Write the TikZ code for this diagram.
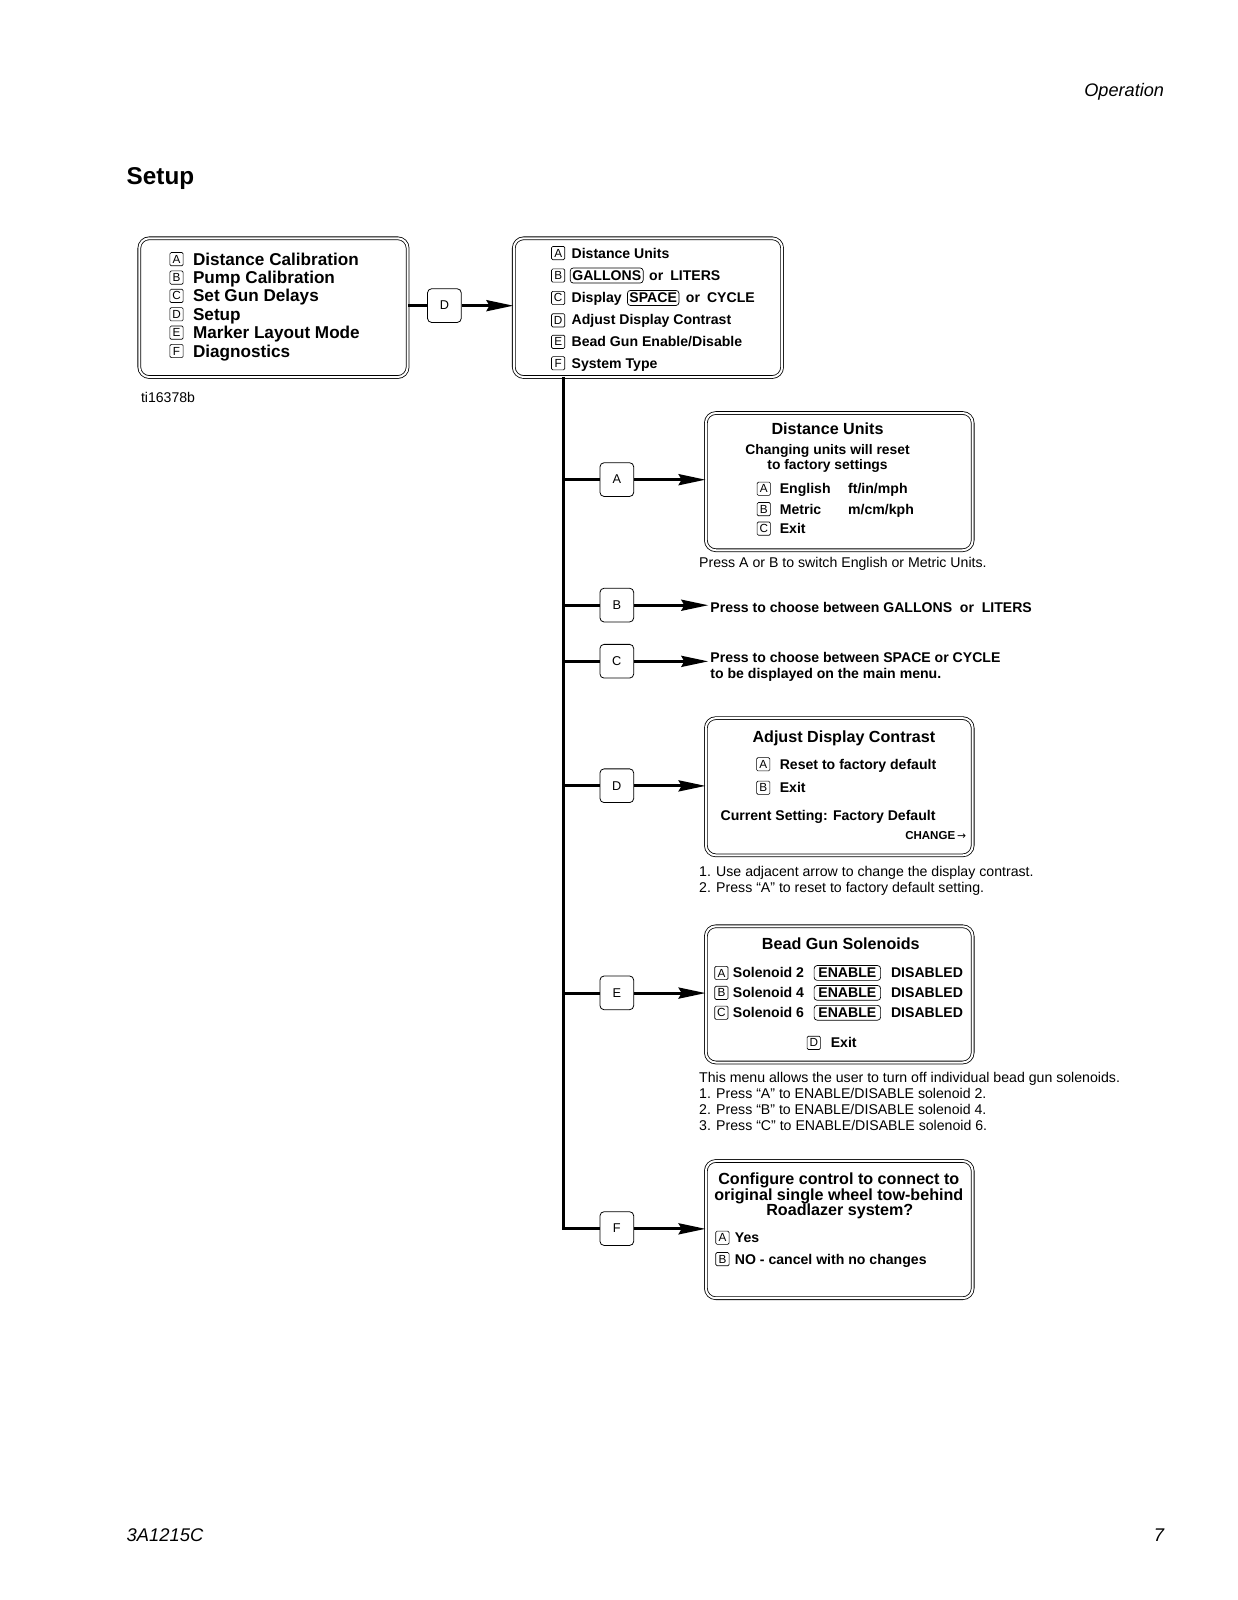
\documentclass[tikz,border=0pt]{standalone}
\usepackage{fontspec}
\setmainfont{Liberation Sans}
\newfontfamily\dejavu{DejaVu Sans}
\usetikzlibrary{arrows.meta}
\newcommand\fs[1]{\fontsize{#1}{#1}\selectfont}
\begin{document}
\begin{tikzpicture}[x=1pt,y=-1pt,
  txt/.style={inner sep=0pt, anchor=base west},
  btxt/.style={txt, font=\bfseries\fs{13.8}},
  rtxt/.style={txt, font=\fs{13.85}},
  ttl/.style={inner sep=0pt, anchor=base, font=\bfseries\fs{15.8}},
  menubox/.style={draw, line width=0.8pt, double, double distance=2pt, rounded corners=10pt, inner sep=0pt},
  keybox/.style={draw, line width=0.8pt, rounded corners=4pt, minimum size=33pt, inner sep=0pt, font=\fs{12.5}},
  lbox/.style={draw, line width=0.65pt, rounded corners=1.3pt, minimum width=13pt, minimum height=13pt, inner sep=0pt, font=\fs{11.5}},
  pill/.style={draw, line width=0.7pt, rounded corners=3pt, inner xsep=2pt, inner ysep=2.5pt, anchor=west, font=\bfseries\fs{13.8}},
  conn/.style={line width=3pt},
  arr/.style={conn, -{Stealth[length=27pt,width=11pt,inset=3pt]}}
]
\useasboundingbox (0,0) rectangle (1237,1600);
\begin{scope}[scale=1.0204, transform shape]

% header / footer
\node[inner sep=0pt, anchor=base east, font=\itshape\fs{17.8}] (hdr) at (1141,94.4) {Operation};
\node[txt, font=\bfseries\fs{23.8}] (ttlsetup) at (124,180.6) {Setup};
\node[txt, font=\fs{13.8}] (tinum) at (138,394) {ti16378b};
\node[txt, font=\itshape\fs{18}] (ftl) at (124,1510.5) {3A1215C};
\node[inner sep=0pt, anchor=base east, font=\itshape\fs{18}] (ftr) at (1141,1510.5) {7};

% main menu
\node[menubox, minimum width=263pt, minimum height=136pt] (m1) at (268,301.5) {};
\foreach \l/\t [count=\i from 0] in {A/Distance Calibration, B/Pump Calibration, C/Set Gun Delays, D/Setup, E/Marker Layout Mode, F/Diagnostics} {
  \node[lbox] (m1k\l) at (173,254+18*\i) {\l};
  \node[txt, font=\bfseries\fs{16.8}] (m1t\l) at (189,259.9+18*\i) {\t};
}

% setup menu
\node[menubox, minimum width=263pt, minimum height=136pt] (m2) at (635,301.5) {};
\node[lbox] (m2kA) at (547,248) {A};
\node[btxt] (m2tA) at (560,253) {Distance Units};
\node[lbox] (m2kB) at (547,270) {B};
\node[pill] (gal) at (558.5,270) {GALLONS};
\node[btxt] (m2tB) at (636,274.6) {or\hspace{0.5em}LITERS};
\node[lbox] (m2kC) at (547,292) {C};
\node[btxt] (m2tC) at (560,296.2) {Display};
\node[pill] (spc) at (614.5,292) {SPACE};
\node[btxt] (m2tC2) at (672,296.2) {or\hspace{0.5em}CYCLE};
\node[lbox] (m2kD) at (547,314) {D};
\node[btxt] (m2tD) at (560,317.8) {Adjust Display Contrast};
\node[lbox] (m2kE) at (547,335) {E};
\node[btxt] (m2tE) at (560,339.4) {Bead Gun Enable/Disable};
\node[lbox] (m2kF) at (547,356) {F};
\node[btxt] (m2tF) at (560,361) {System Type};

% key between main menus
\node[keybox] (kD0) at (435.5,299.5) {D};
\draw[conn] (kD0.west -| m1.east) -- (kD0.west);
\draw[arr] (kD0.east) -- (kD0.east -| m2.west);

% trunk and keys
\coordinate (ttop) at (552,369);
\node[keybox] (kA) at (604.5,470) {A};
\node[keybox] (kB) at (604.5,593) {B};
\node[keybox] (kC) at (604.5,648) {C};
\node[keybox] (kD) at (604.5,770) {D};
\node[keybox] (kE) at (604.5,973) {E};
\node[keybox] (kF) at (604.5,1204) {F};
\draw[conn] (ttop) |- (kF.west);
\foreach \k in {kA,kB,kC,kD,kE} \draw[conn] (\k.west -| ttop) -- (\k.west);

% Distance Units
\node[menubox, minimum width=261.5pt, minimum height=134.5pt] (du) at (822.5,472) {};
\draw[arr] (kA.east) -- (kA.east -| du.west);
\node[ttl] (duT) at (811,425.6) {Distance Units};
\node[inner sep=0pt, anchor=base, font=\bfseries\fs{13.6}] (duS1) at (811,445) {Changing units will reset};
\node[inner sep=0pt, anchor=base, font=\bfseries\fs{13.6}] (duS2) at (811,460) {to factory settings};
\node[lbox] (duKA) at (748.5,479) {A};
\node[btxt] (duA) at (764,484) {English};
\node[btxt] (duA2) at (831,484) {ft/in/mph};
\node[lbox] (duKB) at (748.5,499) {B};
\node[btxt] (duB) at (764,504) {Metric};
\node[btxt] (duB2) at (831,504) {m/cm/kph};
\node[lbox] (duKC) at (748.5,518) {C};
\node[btxt] (duC) at (764,523) {Exit};
\node[rtxt] (duCap) at (685,556) {Press A or B to switch English or Metric Units.};

% B and C
\node[btxt] (tB) at (696,600) {Press to choose between GALLONS\hspace{0.55em}or\hspace{0.55em}LITERS};
\draw[arr, shorten >=2pt] (kB.east) -- (kB.east -| tB.west);
\node[btxt] (tC) at (696,649) {Press to choose between SPACE or CYCLE};
\node[btxt] (tC2) at (696,665) {to be displayed on the main menu.};
\draw[arr, shorten >=2pt] (kC.east) -- (kC.east -| tC.west);

% Adjust Display Contrast
\node[menubox, minimum width=261.5pt, minimum height=134.5pt] (adc) at (822.5,771) {};
\draw[arr] (kD.east) -- (kD.east -| adc.west);
\node[ttl] (adcT) at (827,727.6) {Adjust Display Contrast};
\node[lbox] (adcKA) at (748,749) {A};
\node[btxt] (adcA) at (764,754) {Reset to factory default};
\node[lbox] (adcKB) at (748,772) {B};
\node[btxt] (adcB) at (764,777) {Exit};
\node[btxt] (adcCur) at (706,804) {Current Setting: Factory Default};
\node[inner sep=0pt, anchor=base east, font=\bfseries\fs{11.3}] (adcCh) at (947,823) {CHANGE\,{\dejavu\mdseries\fs{10.5}→}};
\node[rtxt] (adcCap1) at (685,859) {1. Use adjacent arrow to change the display contrast.};
\node[rtxt] (adcCap2) at (685,875) {2. Press “A” to reset to factory default setting.};

% Bead Gun Solenoids
\node[menubox, minimum width=261.5pt, minimum height=133.5pt] (bgs) at (822.5,974.5) {};
\draw[arr] (kE.east) -- (kE.east -| bgs.west);
\node[ttl] (bgsT) at (824,930.6) {Bead Gun Solenoids};
\foreach \l/\n/\yy in {A/2/953.5, B/4/973, C/6/992.5} {
  \node[lbox] (bgsK\l) at (707,\yy) {\l};
  \node[btxt] (bgsS\l) at (718,\yy+4.9) {Solenoid \n};
  \node[pill, inner xsep=4.2pt] (bgsE\l) at (797.5,\yy) {ENABLE};
  \node[btxt] (bgsD\l) at (873,\yy+4.9) {DISABLED};
}
\node[lbox] (bgsKD) at (797.5,1022) {D};
\node[btxt] (bgsX) at (814,1027) {Exit};
\node[rtxt] (bgsC0) at (685,1061) {This menu allows the user to turn off individual bead gun solenoids.};
\node[rtxt] (bgsC1) at (685,1076.5) {1. Press “A” to ENABLE/DISABLE solenoid 2.};
\node[rtxt] (bgsC2) at (685,1092) {2. Press “B” to ENABLE/DISABLE solenoid 4.};
\node[rtxt] (bgsC3) at (685,1107.5) {3. Press “C” to ENABLE/DISABLE solenoid 6.};

% Configure
\node[menubox, minimum width=261.5pt, minimum height=134.5pt] (cfg) at (822.5,1205) {};
\draw[arr] (kF.east) -- (kF.east -| cfg.west);
\node[ttl] (cfgT1) at (822,1160.6) {Configure control to connect to};
\node[ttl] (cfgT2) at (822,1176) {original single wheel tow-behind};
\node[ttl] (cfgT3) at (823,1191.5) {Roadlazer system?};
\node[lbox] (cfgKA) at (708,1213) {A};
\node[btxt] (cfgA) at (720,1218) {Yes};
\node[lbox] (cfgKB) at (708,1234) {B};
\node[btxt] (cfgB) at (720,1239) {NO - cancel with no changes};
\end{scope}
\end{tikzpicture}
\end{document}
